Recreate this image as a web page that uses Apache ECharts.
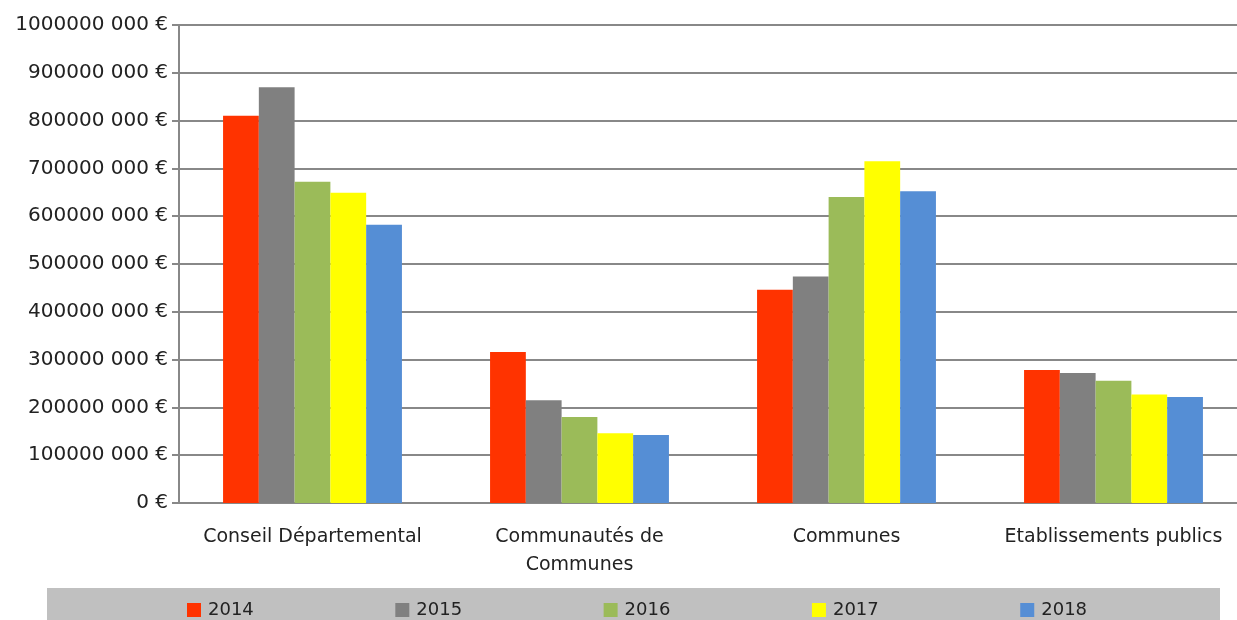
<!DOCTYPE html>
<html><head><meta charset="utf-8">
<script src="https://cdn.jsdelivr.net/npm/echarts@6/dist/echarts.min.js"></script>
<style>html,body{margin:0;padding:0;background:#fff;overflow:hidden}#c{width:1250px;height:620px}</style>
</head><body><div id="c"></div>
<script>
const categories = ['Conseil Départemental', 'Communautés de\nCommunes', 'Communes', 'Etablissements publics'];
const years = ['2014', '2015', '2016', '2017', '2018'];
const s2014 = [810000000, 316000000, 446000000, 278000000];
const s2015 = [870000000, 215000000, 474000000, 272000000];
const s2016 = [672000000, 180000000, 640000000, 256000000];
const s2017 = [649000000, 146000000, 715000000, 227000000];
const s2018 = [582000000, 142000000, 652000000, 222000000];
const colors = ['#ff3300', '#808080', '#9bbb59', '#ffff00', '#558ed5'];
const seriesData = [s2014, s2015, s2016, s2017, s2018];

const font = 'DejaVu Sans';
const chart = echarts.init(document.getElementById('c'));
chart.setOption({
  animation: false,
  textStyle: {fontFamily: font},
  graphic: [{type: 'rect', left: 47, top: 588, shape: {width: 1173, height: 40}, style: {fill: '#c0c0c0'}, z: 0}],
  legend: {
    data: years, left: 182, top: 596, itemWidth: 14, itemHeight: 14, itemGap: 141.5,
    icon: 'rect', textStyle: {fontFamily: font, fontSize: 18, color: '#222', padding: [0, 0, 0, 2]}
  },
  grid: {left: 179, width: 1068, top: 25, bottom: 117, containLabel: false},
  xAxis: {
    type: 'category', data: categories,
    axisLine: {lineStyle: {color: '#888', width: 2}},
    axisTick: {length: 8, lineStyle: {color: '#888', width: 2}},
    axisLabel: {fontFamily: font, fontSize: 19, color: '#222', margin: 20, lineHeight: 28, interval: 0}
  },
  yAxis: {
    type: 'value', min: 0, max: 1000000000, interval: 100000000,
    axisLine: {show: true, lineStyle: {color: '#888', width: 2}},
    axisTick: {show: true, length: 7, lineStyle: {color: '#888', width: 2}},
    splitLine: {lineStyle: {color: '#888', width: 2}},
    axisLabel: {fontFamily: font, fontSize: 20, color: '#222', margin: 11,
      formatter: v => v === 0 ? '0 €' : Math.floor(v / 1000) + ' 000 €'}
  },
  series: seriesData.map((d, i) => ({
    name: years[i], type: 'bar', data: d, barGap: '0%', barCategoryGap: '33%',
    itemStyle: {color: colors[i]}
  }))
});
</script></body></html>
